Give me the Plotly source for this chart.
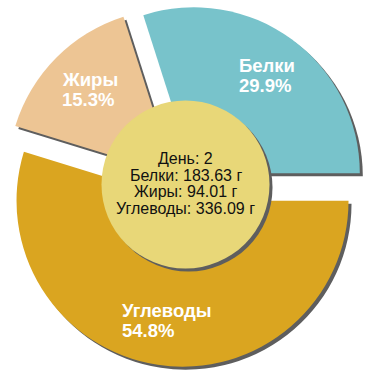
import math
import plotly.graph_objects as go

# ---- data ----
names = ["Белки", "Жиры", "Углеводы"]
grams = [183.63, 94.01, 336.09]
day = 2
slice_colors = ["#78C3CB", "#EDC594", "#DAA520"]
shadow_color = "#5e5e5e"
center_color = "#E8D778"

total = sum(grams)
pct_labels = [f"{100 * g / total:.1f}%" for g in grams]
center_lines = [f"День: {day}"] + [f"{n}: {g:.2f} г" for n, g in zip(names, grams)]

# ---- layout geometry (pixels) ----
W = H = 370
CX, CY = 184.8, 185.6      # pie centre
R = 166                    # pie radius
PULL = 0.092               # explode fraction
SH = 3                     # shadow offset
CCX, CCY, CR = 185.5, 184.5, 84   # centre disc
FONT = "Liberation Sans, Arial, sans-serif"
# first slice starts at 3 o'clock and runs counter-clockwise
ROT = 90 - 360 * grams[0] / total


def dom(cx, cy, half):
    return dict(x=[(cx - half) / W, (cx + half) / W],
                y=[1 - (cy + half) / H, 1 - (cy - half) / H])


def pie(values, labels, colors, domain, pull=0, rot=0):
    return go.Pie(values=values, labels=labels, sort=False,
                  direction="counterclockwise", rotation=rot, pull=pull,
                  marker=dict(colors=colors, line=dict(width=0)),
                  textinfo="none", hoverinfo="skip", showlegend=False,
                  domain=domain)


half_main = R * (1 + PULL)
fig = go.Figure()
fig.add_trace(pie(grams, names, [shadow_color] * len(grams),
                  dom(CX + SH, CY + SH, half_main), PULL, ROT))
fig.add_trace(pie(grams, names, slice_colors, dom(CX, CY, half_main), PULL, ROT))
fig.add_trace(pie([1], ["c"], [shadow_color], dom(CCX + SH, CCY + SH, CR)))
fig.add_trace(pie([1], ["c"], [center_color], dom(CCX, CCY, CR)))

# approximate bold advance widths (em) for left-aligning label blocks
bold_w = {"Б": 0.722, "е": 0.556, "л": 0.583, "к": 0.556, "и": 0.611,
          "Ж": 0.94, "р": 0.611, "ы": 0.833, "У": 0.667, "г": 0.389,
          "в": 0.556, "о": 0.611, "д": 0.611, ".": 0.278, "%": 0.889}


def text_w(s, size):
    return sum(bold_w.get(ch, 0.556) for ch in s) * size


LBL_SIZE = 18.5
LBL_GAP = 20.4
annotations = []
cum = 0
for n, g, p in zip(names, grams, pct_labels):
    mid = math.radians(360 * (cum + g / 2) / total)
    cum += g
    dist = (PULL + 0.73) * R
    lx = CX + dist * math.cos(mid)
    ly = CY - dist * math.sin(mid)
    width = max(text_w(n, LBL_SIZE), text_w(p, LBL_SIZE))
    left = lx - width / 2
    for k, line in enumerate([n, p]):
        annotations.append(dict(
            x=left / W, y=1 - ly / H, xref="paper", yref="paper",
            xanchor="left", yanchor="middle", showarrow=False,
            yshift=LBL_GAP / 2 if k == 0 else -LBL_GAP / 2,
            text=line, font=dict(family=FONT, size=LBL_SIZE, color="white", weight="bold")))

C_SIZE = 16
C_GAP = 16.45
nL = len(center_lines)
for k, line in enumerate(center_lines):
    annotations.append(dict(
        x=CCX / W, y=1 - (CCY - 1) / H, xref="paper", yref="paper",
        xanchor="center", yanchor="middle", showarrow=False,
        yshift=((nL - 1) / 2 - k) * C_GAP,
        text=line, font=dict(family=FONT, size=C_SIZE, color="#111111")))

fig.update_layout(width=W, height=H, margin=dict(l=0, r=0, t=0, b=0),
                  paper_bgcolor="white", plot_bgcolor="white",
                  annotations=annotations)

fig.write_html("out.html", config={"displayModeBar": False},
               post_script="document.body.style.margin='0px';document.body.style.overflow='hidden';")
